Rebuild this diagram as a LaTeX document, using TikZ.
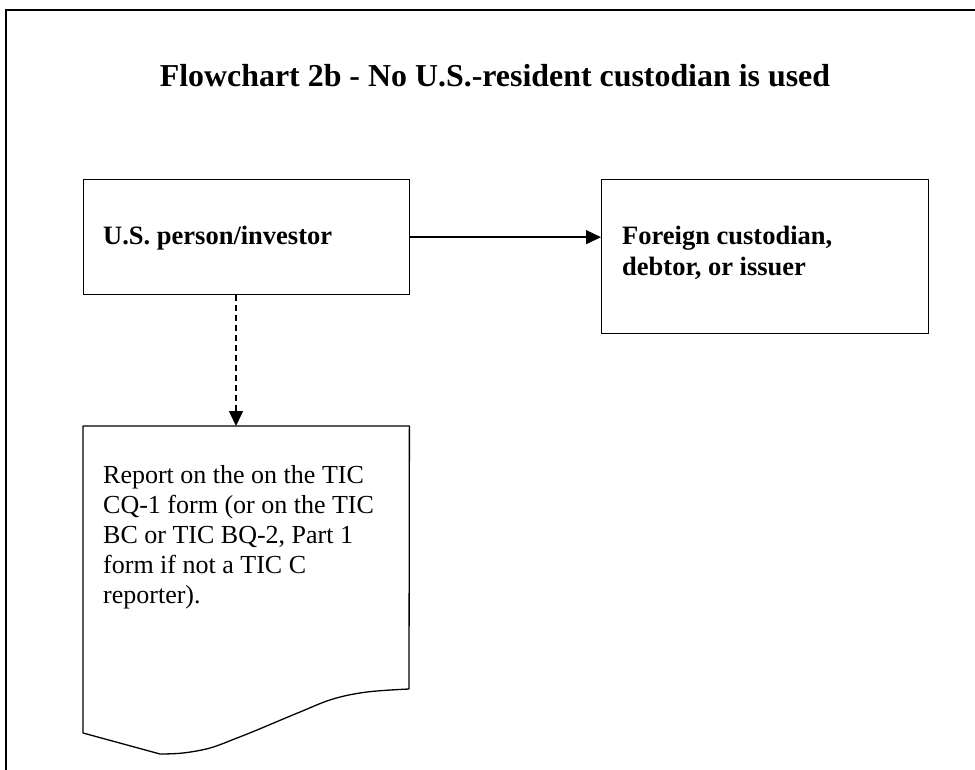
\documentclass[tikz,border=0pt]{standalone}
\usepackage{fontspec}
\setmainfont{Liberation Serif}
\usetikzlibrary{arrows.meta}
\begin{document}
\begin{tikzpicture}[x=1pt,y=-1pt,
  box/.style={draw, line width=1.3pt, rectangle, anchor=north west, inner sep=0pt},
  lbl/.style={anchor=base west, inner sep=0pt, align=left, font=\fontsize{26}{30}\selectfont},
  blbl/.style={anchor=base west, inner sep=0pt, align=left, font=\fontsize{26.5}{31}\selectfont\bfseries},
  conn/.style={line width=1.3pt, -{Triangle[length=15pt,width=14pt]}},
  dconn/.style={conn, line width=1.6pt, dash pattern=on 6pt off 4pt},
  docshape/.style={line width=1.3pt, line join=round},
]
\useasboundingbox (0,0) rectangle (975,770);
% outer frame (cut off at right and bottom)
\draw[line width=2pt] (6,780) -- (6,10) -- (985,10);
% title
\node[anchor=base, inner sep=0pt, font=\fontsize{31.9}{36}\selectfont\bfseries] (title) at (495,87) {Flowchart 2b - No U.S.-resident custodian is used};
% boxes
\node[box, minimum width=326pt, minimum height=115pt] (b1) at (83,179) {};
\node[box, minimum width=327pt, minimum height=154pt] (b2) at (601,179) {};
\node[blbl] (t1) at (103,245) {U.S. person/investor};
\node[blbl] (t2) at (622,276) {Foreign custodian,\\debtor, or issuer};
% document shape
\node[rectangle, anchor=north west, inner sep=0pt, minimum width=326pt, minimum height=329pt] (doc) at (83,426) {};
\draw[docshape] (doc.north west) -- (doc.north east) --
  plot[smooth, tension=0.6] coordinates {(409,689) (367,692) (333,699) (300,712) (257,730) (237,738) (210,748) (183,753) (160,754)}
  -- (83,733) -- cycle;
\node[lbl] (t3) at (103,603) {Report on the on the TIC\\CQ-1 form (or on the TIC\\BC or TIC BQ-2, Part 1\\form if not a TIC C\\reporter).};
% connectors
\coordinate (dx) at (236,0);
\draw[conn] (b1.east) -- (b1.east -| b2.west);
\draw[dconn] (b1.south -| dx) -- (doc.north -| dx);
\end{tikzpicture}
\end{document}
